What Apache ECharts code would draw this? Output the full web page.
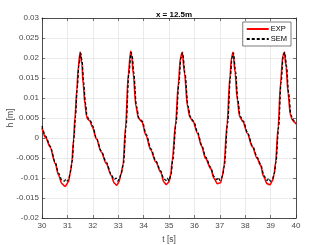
<!DOCTYPE html>
<html><head><meta charset="utf-8">
<script src="https://cdn.jsdelivr.net/npm/echarts@6/dist/echarts.min.js"></script>
<style>html,body{margin:0;padding:0;background:#fff}#c{width:327px;height:245px}</style>
</head><body><div id="c"></div>
<script>
const titleText = 'x = 12.5m';
const xName = 't [s]';
const yName = 'h [m]';
const seriesNames = ['EXP', 'SEM'];
const xTicks = [30, 31, 32, 33, 34, 35, 36, 37, 38, 39, 40];
const yTicks = [-0.02, -0.015, -0.01, -0.005, 0, 0.005, 0.01, 0.015, 0.02, 0.025, 0.03];

const expT = [30.00,30.15,30.32,30.52,30.65,30.78,30.91,31.04,31.12,31.17,31.24,31.30,31.37,31.43,31.50,31.57,31.62,31.69,31.75,31.80,31.88,31.98,
  32.14,32.33,32.53,32.72,32.85,32.94,33.03,33.10,33.19,33.29,33.40,33.49,33.54,33.59,33.70,33.80,33.93,
  34.09,34.28,34.48,34.67,34.80,34.89,35.00,35.07,35.13,35.26,35.37,35.45,35.52,35.61,35.73,35.82,35.95,
  36.12,36.28,36.44,36.64,36.77,36.90,37.03,37.10,37.16,37.29,37.40,37.46,37.52,37.60,37.69,37.78,37.91,
  38.08,38.28,38.47,38.60,38.73,38.86,38.97,39.08,39.14,39.19,39.30,39.39,39.48,39.54,39.61,39.69,39.78,39.86,39.93,40.00];
const expH = [0.0025,0.0000,-0.0023,-0.0064,-0.0093,-0.0114,-0.0121,-0.0110,-0.0085,-0.0064,-0.0006,0.0053,0.0120,0.0178,0.0215,0.0186,0.0136,0.0086,0.0055,0.0047,0.0043,0.0028,
  -0.0002,-0.0035,-0.0064,-0.0093,-0.0113,-0.0118,-0.0110,-0.0092,-0.0068,0.0028,0.0162,0.0217,0.0200,0.0162,0.0078,0.0049,0.0041,
  0.0007,-0.0030,-0.0060,-0.0085,-0.0110,-0.0116,-0.0110,-0.0090,-0.0055,0.0037,0.0137,0.0200,0.0215,0.0162,0.0078,0.0052,0.0041,
  0.0012,-0.0020,-0.0051,-0.0076,-0.0101,-0.0114,-0.0112,-0.0095,-0.0072,0.0037,0.0154,0.0200,0.0214,0.0165,0.0095,0.0053,0.0041,
  0.0012,-0.0022,-0.0051,-0.0068,-0.0097,-0.0114,-0.0117,-0.0106,-0.0090,-0.0064,0.0028,0.0137,0.0205,0.0215,0.0178,0.0111,0.0057,0.0045,0.0040,0.0035];

const semT = [30.00,30.15,30.32,30.52,30.65,30.78,30.88,30.94,31.00,31.06,31.13,31.19,31.26,31.32,31.39,31.45,31.52,31.58,31.64,31.71,31.77,31.83,31.90,32.00,
  32.14,32.33,32.53,32.72,32.84,32.92,32.98,33.05,33.12,33.21,33.31,33.42,33.51,33.56,33.61,33.72,33.82,33.95,
  34.10,34.29,34.48,34.67,34.80,34.88,34.93,35.00,35.08,35.15,35.28,35.39,35.47,35.54,35.63,35.75,35.84,35.97,
  36.13,36.29,36.45,36.64,36.77,36.88,36.94,37.00,37.07,37.12,37.18,37.31,37.42,37.48,37.54,37.62,37.71,37.80,37.93,
  38.09,38.29,38.48,38.61,38.74,38.86,38.93,38.99,39.08,39.15,39.21,39.32,39.41,39.50,39.56,39.63,39.71,39.80,39.88,39.95,40.00];
const semH = [0.0030,0.0004,-0.0020,-0.0060,-0.0088,-0.0105,-0.0108,-0.0103,-0.0108,-0.0100,-0.0080,-0.0058,0.0000,0.0055,0.0125,0.0180,0.0213,0.0192,0.0140,0.0088,0.0058,0.0048,0.0044,0.0030,
  0.0000,-0.0032,-0.0060,-0.0090,-0.0104,-0.0100,-0.0108,-0.0102,-0.0088,-0.0064,0.0028,0.0160,0.0214,0.0202,0.0165,0.0080,0.0050,0.0042,
  0.0010,-0.0027,-0.0057,-0.0082,-0.0102,-0.0106,-0.0100,-0.0107,-0.0092,-0.0055,0.0037,0.0137,0.0200,0.0213,0.0162,0.0080,0.0053,0.0042,
  0.0014,-0.0018,-0.0048,-0.0073,-0.0096,-0.0104,-0.0099,-0.0106,-0.0100,-0.0092,-0.0070,0.0037,0.0154,0.0200,0.0213,0.0167,0.0097,0.0055,0.0042,
  0.0014,-0.0020,-0.0049,-0.0066,-0.0094,-0.0106,-0.0101,-0.0108,-0.0102,-0.0088,-0.0062,0.0028,0.0137,0.0205,0.0214,0.0180,0.0113,0.0058,0.0046,0.0041,0.0037];

const FONT = '"Liberation Sans", Arial, Helvetica, sans-serif';
const AX = '#262626', TXT = '#4a4a4a', GRID = '#e4e4e4';
const fmtY = v => String(parseFloat(Number(v).toFixed(4)));

const chart = echarts.init(document.getElementById('c'), null, {renderer: 'canvas'});
const baseX = {
  type: 'value', min: xTicks[0], max: xTicks[xTicks.length - 1], interval: 1,
  axisLine: {show: true, onZero: false, lineStyle: {color: AX, width: 0.8}},
  axisTick: {show: true, inside: true, length: 3, lineStyle: {color: AX, width: 0.6}}
};
const baseY = {
  type: 'value', min: yTicks[0], max: yTicks[yTicks.length - 1], interval: 0.005,
  axisLine: {show: true, onZero: false, lineStyle: {color: AX, width: 0.8}},
  axisTick: {show: true, inside: true, length: 3, lineStyle: {color: AX, width: 0.6}}
};
chart.setOption({
  animation: false,
  textStyle: {fontFamily: FONT},
  title: {text: titleText, left: 169, textAlign: 'center', top: 6,
    textStyle: {fontSize: 8, fontWeight: 'bold', color: '#000', fontFamily: FONT}},
  grid: {left: 42, right: 31, top: 18, bottom: 27, containLabel: false, outerBoundsMode: 'none'},
  legend: {
    data: seriesNames, orient: 'vertical', right: 36, top: 22,
    itemWidth: 22, itemHeight: 8, itemGap: 2, padding: [3, 4, 3, 3],
    backgroundColor: '#fff', borderColor: AX, borderWidth: 0.6, borderRadius: 0,
    itemStyle: {opacity: 0},
    textStyle: {fontSize: 7.5, color: '#000', fontFamily: FONT, padding: [0, 0, 0, -3]}
  },
  xAxis: [
    Object.assign({}, baseX, {
      position: 'bottom', name: xName, nameLocation: 'middle', nameGap: 17, nameMoveOverlap: false,
      nameTextStyle: {fontSize: 8.5, color: TXT, fontFamily: FONT},
      axisLabel: {fontSize: 8, color: TXT, margin: 4, fontFamily: FONT},
      splitLine: {show: true, lineStyle: {color: GRID, width: 0.8}}
    }),
    Object.assign({}, baseX, {position: 'top', axisLabel: {show: false}, splitLine: {show: false}})
  ],
  yAxis: [
    Object.assign({}, baseY, {
      position: 'left', name: yName, nameLocation: 'middle', nameGap: 27, nameMoveOverlap: false,
      nameTextStyle: {fontSize: 8.5, color: TXT, fontFamily: FONT},
      axisLabel: {fontSize: 8, color: TXT, margin: 3, fontFamily: FONT, formatter: fmtY},
      splitLine: {show: true, lineStyle: {color: GRID, width: 0.8}}
    }),
    Object.assign({}, baseY, {position: 'right', axisLabel: {show: false}, splitLine: {show: false}})
  ],
  series: [
    {name: seriesNames[0], type: 'line', xAxisIndex: 0, yAxisIndex: 0,
     data: expT.map((t, i) => [t, expH[i]]), symbol: 'none', showSymbol: false,
     smooth: 0.3, smoothMonotone: 'x',
     lineStyle: {color: '#ff0000', width: 1.6}, itemStyle: {color: '#ff0000'}, z: 2},
    {name: seriesNames[1], type: 'line', xAxisIndex: 0, yAxisIndex: 0,
     data: semT.map((t, i) => [t, semH[i]]), symbol: 'none', showSymbol: false,
     smooth: 0.3, smoothMonotone: 'x',
     lineStyle: {color: '#000000', width: 1.2, type: [3, 2]}, itemStyle: {color: '#000000'}, z: 3}
  ]
});
</script>
</body></html>
